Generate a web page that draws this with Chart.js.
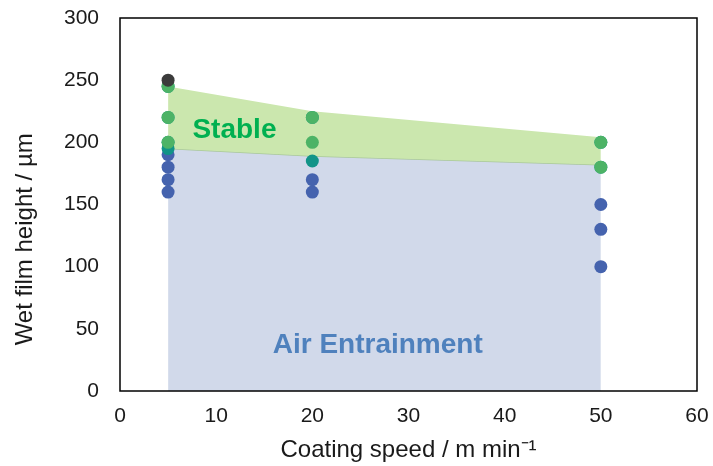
<!DOCTYPE html>
<html>
<head>
<meta charset="utf-8">
<script src="https://cdn.jsdelivr.net/npm/chart.js@4/dist/chart.umd.min.js"></script>
<style>
  html, body { margin: 0; padding: 0; background: #fff; }
  #wrap { width: 713px; height: 466px; }
</style>
</head>
<body>
<div id="wrap"><canvas id="c" width="713" height="466"></canvas></div>
<script>
// Coating speeds (m/min) at which the window boundaries are defined
const boundarySpeed = [5, 20, 50];
// Upper limit of the stable region (µm)
const stableUpper = [245, 225, 204];
// Lower limit of the stable region = upper limit of air entrainment (µm)
const airUpper = [195, 189, 182];

// Measured points, grouped by observed outcome
const airSpeed   = [5, 5, 5, 5, 20, 20, 50, 50, 50];
const airHeight  = [190, 180, 170, 160, 170, 160, 150, 130, 100];

const transSpeed  = [5, 5, 5, 5, 20, 20, 50, 50];
const transHeight = [245, 220, 200, 195, 220, 185, 200, 180];

const stableSpeed  = [5, 5, 5, 20, 20, 50, 50];
const stableHeight = [245, 220, 200, 220, 200, 200, 180];

const otherSpeed  = [5];
const otherHeight = [250];

const xTicks = [0, 10, 20, 30, 40, 50, 60];
const yTicks = [0, 50, 100, 150, 200, 250, 300];

const yTitle = 'Wet film height / \u00B5m';
const xTitle = 'Coating speed / m min\u207B\u00B9';

const regionLabels = [
  { text: 'Stable', x: 11.9, y: 210, color: '#00b050' },
  { text: 'Air Entrainment', x: 26.8, y: 37, color: '#4f81bd' }
];

const pts = (xs, ys) => xs.map((x, i) => ({ x, y: ys[i] }));

const FONT = '"Liberation Sans", Arial, sans-serif';

// Region names written inside the filled areas
const regionText = {
  id: 'regionText',
  afterDatasetsDraw(chart) {
    const { ctx, scales } = chart;
    ctx.save();
    ctx.font = 'bold 28px ' + FONT;
    ctx.textAlign = 'center';
    ctx.textBaseline = 'middle';
    regionLabels.forEach(l => {
      ctx.fillStyle = l.color;
      ctx.fillText(l.text, scales.x.getPixelForValue(l.x), scales.y.getPixelForValue(l.y));
    });
    ctx.restore();
  }
};

// Box around the plot area and the vertical axis title (set a little below centre)
const frame = {
  id: 'frame',
  afterDraw(chart) {
    const a = chart.chartArea;
    const ctx = chart.ctx;
    ctx.save();
    ctx.strokeStyle = '#000';
    ctx.lineWidth = 1.5;
    ctx.strokeRect(a.left, a.top, a.right - a.left, a.bottom - a.top);

    ctx.translate(25, chart.scales.y.getPixelForValue(122));
    ctx.rotate(-Math.PI / 2);
    ctx.font = '24px ' + FONT;
    ctx.fillStyle = '#1a1a1a';
    ctx.textAlign = 'center';
    ctx.textBaseline = 'middle';
    ctx.fillText(yTitle, 0, 0);
    ctx.restore();
  }
};

new Chart(document.getElementById('c'), {
  type: 'scatter',
  data: {
    datasets: [
      {
        label: 'Air entrainment region',
        data: pts(boundarySpeed, airUpper),
        showLine: true,
        fill: 'origin',
        backgroundColor: '#d1d9ea',
        borderColor: '#a9c79c',
        borderWidth: 1.5,
        pointRadius: 0,
        order: 20
      },
      {
        label: 'Stable region',
        data: pts(boundarySpeed, stableUpper),
        showLine: true,
        fill: 0,
        backgroundColor: '#cbe7ae',
        borderColor: 'rgba(0,0,0,0)',
        borderWidth: 0,
        pointRadius: 0,
        order: 19
      },
      {
        label: 'Air entrainment',
        data: pts(airSpeed, airHeight),
        backgroundColor: '#4563ae',
        borderWidth: 0,
        pointRadius: 6.5,
        order: 4
      },
      {
        label: 'Transition',
        data: pts(transSpeed, transHeight),
        backgroundColor: '#129488',
        borderWidth: 0,
        pointRadius: 6.5,
        order: 3
      },
      {
        label: 'Stable',
        data: pts(stableSpeed, stableHeight),
        backgroundColor: '#4db366',
        borderWidth: 0,
        pointRadius: 6.5,
        order: 2
      },
      {
        label: 'Other',
        data: pts(otherSpeed, otherHeight),
        backgroundColor: '#3b3b3b',
        borderWidth: 0,
        pointRadius: 6.5,
        order: 1
      }
    ]
  },
  options: {
    responsive: false,
    animation: false,
    devicePixelRatio: 1,
    layout: { padding: { top: 18, right: 16, left: 0, bottom: 0 } },
    plugins: {
      legend: { display: false },
      tooltip: { enabled: false }
    },
    scales: {
      x: {
        type: 'linear',
        min: 0, max: 60,
        afterBuildTicks: s => { s.ticks = xTicks.map(v => ({ value: v })); },
        afterFit: s => { s.height = 75; s.paddingLeft = 0; s.paddingRight = 0; },
        grid: { display: false, drawTicks: false },
        border: { display: false },
        ticks: { color: '#1a1a1a', font: { family: FONT, size: 21 }, padding: 13, maxRotation: 0 },
        title: {
          display: true,
          text: xTitle,
          color: '#1a1a1a',
          font: { family: FONT, size: 24 },
          padding: { top: 0, bottom: 1 }
        }
      },
      y: {
        type: 'linear',
        min: 0, max: 300,
        afterBuildTicks: s => { s.ticks = yTicks.map(v => ({ value: v })); },
        afterFit: s => { s.width = 120; s.paddingTop = 0; s.paddingBottom = 0; },
        grid: { display: false, drawTicks: false },
        border: { display: false },
        ticks: { color: '#1a1a1a', font: { family: FONT, size: 21 }, padding: 21 },
        title: { display: false }
      }
    }
  },
  plugins: [regionText, frame]
});
</script>
</body>
</html>
